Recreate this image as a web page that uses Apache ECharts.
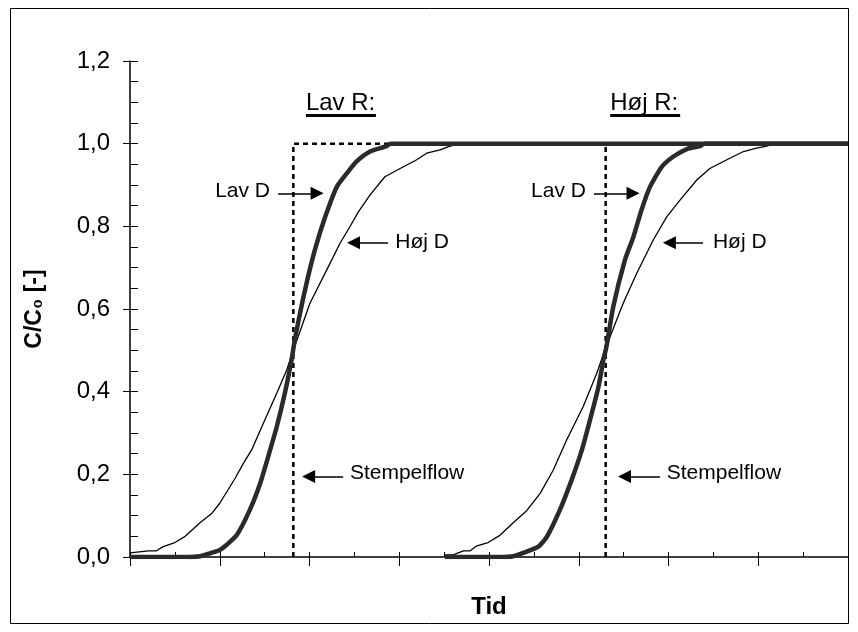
<!DOCTYPE html>
<html>
<head>
<meta charset="utf-8">
<script src="https://cdn.jsdelivr.net/npm/echarts@6/dist/echarts.min.js"></script>
<style>
html,body{margin:0;padding:0;background:#fff;}
#chart{width:858px;height:632px;}
</style>
</head>
<body>
<div id="chart"></div>
<script>
// ---- data (x in time units, y = C/C0) ----
const lavR_hojD_x = [0, 0.41, 0.59, 0.74, 1.0, 1.23, 1.56, 1.82, 2.0, 2.34, 2.53, 2.71, 2.97, 3.27, 3.49, 3.64, 4.01, 4.46, 4.68, 4.90, 5.09, 5.35, 5.68, 6.02, 6.39, 6.61, 6.91, 7.13, 7.4, 16];
const lavR_hojD_y = [0.01, 0.015, 0.015, 0.025, 0.035, 0.05, 0.083, 0.105, 0.13, 0.19, 0.227, 0.259, 0.323, 0.396, 0.452, 0.50, 0.614, 0.711, 0.759, 0.799, 0.835, 0.876, 0.92, 0.94, 0.961, 0.977, 0.985, 0.994, 1.0, 1.0];

const lavR_lavD_x = [0, 1.3, 1.56, 1.78, 2.0, 2.15, 2.38, 2.67, 2.90, 3.08, 3.27, 3.45, 3.60, 3.68, 3.90, 4.12, 4.35, 4.61, 4.83, 5.05, 5.35, 5.72, 5.8, 16];
const lavR_lavD_y = [0, 0, 0.002, 0.009, 0.017, 0.029, 0.053, 0.114, 0.178, 0.243, 0.315, 0.396, 0.477, 0.53, 0.646, 0.743, 0.823, 0.896, 0.928, 0.957, 0.981, 0.994, 1.0, 1.0];

const hojR_hojD_x = [7.02, 7.2, 7.43, 7.58, 7.73, 7.98, 8.25, 8.54, 8.84, 9.14, 9.43, 9.73, 10.10, 10.40, 10.58, 10.99, 11.29, 11.66, 11.96, 12.26, 12.63, 12.92, 13.30, 13.67, 13.96, 14.19, 14.35, 16];
const hojR_hojD_y = [0.005, 0.005, 0.015, 0.015, 0.027, 0.035, 0.053, 0.083, 0.112, 0.154, 0.210, 0.283, 0.364, 0.444, 0.50, 0.614, 0.686, 0.767, 0.823, 0.864, 0.912, 0.94, 0.961, 0.981, 0.989, 0.994, 1.0, 1.0];

const hojR_lavD_x = [7.02, 8.25, 8.54, 8.84, 9.10, 9.29, 9.58, 9.84, 10.07, 10.25, 10.44, 10.55, 10.62, 10.77, 11.03, 11.22, 11.40, 11.59, 11.85, 12.11, 12.41, 12.70, 12.8, 16];
const hojR_lavD_y = [0, 0, 0.002, 0.013, 0.025, 0.049, 0.114, 0.186, 0.259, 0.331, 0.412, 0.477, 0.51, 0.606, 0.719, 0.775, 0.840, 0.896, 0.944, 0.969, 0.987, 0.994, 1.0, 1.0];

const stempelLavR_x = [3.64, 3.64, 16];
const stempelLavR_y = [0, 1.0, 1.0];
const stempelHojR_x = [10.6, 10.6];
const stempelHojR_y = [0, 1.0];

const yTicks = [0, 0.2, 0.4, 0.6, 0.8, 1.0, 1.2];

// annotation texts
const groupTitles = ['Lav R:', 'Høj R:'];
const curveLabels = ['Lav D', 'Høj D', 'Stempelflow'];

// ---- build ----
const zip = (xs, ys) => xs.map((x, i) => [x, ys[i]]);
const FONT = '"Liberation Sans", Arial, sans-serif';

// annotation placement (data coordinates)
const arrows = [
  [[3.30, 0.88], [4.17, 0.88]],
  [[5.75, 0.76], [4.98, 0.76]],
  [[4.75, 0.195], [3.98, 0.195]],
  [[10.34, 0.88], [11.21, 0.88]],
  [[12.77, 0.76], [12.02, 0.76]],
  [[11.81, 0.195], [11.02, 0.195]]
];
const underlines = [
  [[3.92, 1.069], [5.48, 1.069]],
  [[10.70, 1.069], [12.26, 1.069]]
];
const textMarks = [
  {coord: [3.12, 0.885], text: curveLabels[0], align: 'right', size: 21},
  {coord: [5.91, 0.762], text: curveLabels[1], align: 'left', size: 21},
  {coord: [4.90, 0.203], text: curveLabels[2], align: 'left', size: 21},
  {coord: [10.16, 0.885], text: curveLabels[0], align: 'right', size: 21},
  {coord: [12.99, 0.762], text: curveLabels[1], align: 'left', size: 21},
  {coord: [11.96, 0.203], text: curveLabels[2], align: 'left', size: 21},
  {coord: [3.92, 1.097], text: groupTitles[0], align: 'left', size: 24},
  {coord: [10.70, 1.097], text: groupTitles[1], align: 'left', size: 24}
];

const chart = echarts.init(document.getElementById('chart'), null, {renderer: 'canvas'});

const thin = {color: '#000', width: 1.3};
const thick = {color: '#2a2a2a', width: 4.5};

const option = {
  animation: false,
  backgroundColor: '#fff',
  textStyle: {fontFamily: FONT},
  graphic: [{
    type: 'rect',
    shape: {x: 10.5, y: 8.5, width: 838, height: 615},
    style: {fill: 'none', stroke: '#000', lineWidth: 1},
    silent: true
  }],
  grid: {left: 130, top: 61, right: 10, bottom: 75, containLabel: false},
  xAxis: [{
    type: 'value', min: 0, max: 16, interval: 2,
    axisLine: {show: true, lineStyle: {color: '#000', width: 1.5}},
    axisTick: {show: true, inside: false, length: 9, lineStyle: {color: '#000', width: 1}},
    axisLabel: {show: false},
    splitLine: {show: false},
    name: 'Tid', nameLocation: 'middle', nameGap: 38,
    nameTextStyle: {fontSize: 24, fontWeight: 'bold', color: '#000', fontFamily: FONT}
  }, {
    type: 'value', min: 0, max: 16, interval: 1, position: 'bottom', offset: 0,
    axisLine: {show: false},
    axisTick: {show: true, inside: true, length: 5, lineStyle: {color: '#000', width: 1}},
    axisLabel: {show: false},
    splitLine: {show: false}
  }],
  yAxis: [{
    type: 'value', min: 0, max: 1.2, interval: 0.2,
    axisLine: {show: true, lineStyle: {color: '#000', width: 1.5}},
    axisTick: {show: true, inside: false, length: 7, lineStyle: {color: '#000', width: 1}},
    axisLabel: {show: true, margin: 20, fontSize: 24, color: '#000', fontFamily: FONT,
      formatter: v => (yTicks.some(t => Math.abs(t - v) < 1e-9) ? v.toFixed(1).replace('.', ',') : '')},
    splitLine: {show: false},
    name: 'C/C₀ [-]', nameLocation: 'middle', nameGap: 84, nameRotate: 90,
    nameTextStyle: {fontSize: 23, fontWeight: 'bold', color: '#000', fontFamily: FONT}
  }, {
    type: 'value', min: 0, max: 1.2, interval: 0.2, position: 'left', offset: 0,
    axisLine: {show: false},
    axisTick: {show: true, inside: true, length: 8, lineStyle: {color: '#000', width: 1}},
    minorTick: {show: true, splitNumber: 4, length: 8, lineStyle: {color: '#000', width: 1}},
    axisLabel: {show: false},
    splitLine: {show: false}
  }],
  series: [
    {
      name: 'Stempelflow Lav R', type: 'line', showSymbol: false, symbol: 'none',
      data: zip(stempelLavR_x, stempelLavR_y),
      lineStyle: {color: '#000', width: 2.5, type: [5, 4]},
      z: 2,
      markLine: {
        silent: true, symbol: ['none', 'triangle'], symbolSize: 13, precision: 4,
        lineStyle: {color: '#000', width: 1.6, type: 'solid'},
        itemStyle: {color: '#000'},
        label: {show: false},
        data: arrows.map(a => [{coord: a[0]}, {coord: a[1]}])
      }
    },
    {
      name: 'Stempelflow Høj R', type: 'line', showSymbol: false, symbol: 'none',
      data: zip(stempelHojR_x, stempelHojR_y),
      lineStyle: {color: '#000', width: 2.5, type: [5, 4]},
      z: 2,
      markLine: {
        silent: true, symbol: ['none', 'none'], precision: 4,
        lineStyle: {color: '#000', width: 3, type: 'solid'},
        label: {show: false},
        data: underlines.map(a => [{coord: a[0]}, {coord: a[1]}])
      },
      markPoint: {
        silent: true, symbol: 'circle', symbolSize: 0,
        data: textMarks.map(t => ({
          coord: t.coord,
          label: {show: true, position: 'inside', formatter: t.text, align: t.align,
            verticalAlign: 'middle', fontSize: t.size, color: '#000', fontFamily: FONT}
        }))
      }
    },
    {name: 'Lav R – Høj D', type: 'line', showSymbol: false, symbol: 'none',
      data: zip(lavR_hojD_x, lavR_hojD_y), lineStyle: thin, z: 3},
    {name: 'Høj R – Høj D', type: 'line', showSymbol: false, symbol: 'none',
      data: zip(hojR_hojD_x, hojR_hojD_y), lineStyle: thin, z: 3},
    {name: 'Lav R – Lav D', type: 'line', showSymbol: false, symbol: 'none', smooth: 0.2,
      data: zip(lavR_lavD_x, lavR_lavD_y), lineStyle: thick, z: 4},
    {name: 'Høj R – Lav D', type: 'line', showSymbol: false, symbol: 'none', smooth: 0.2,
      data: zip(hojR_lavD_x, hojR_lavD_y), lineStyle: thick, z: 4}
  ]
};
chart.setOption(option);
</script>
</body>
</html>
